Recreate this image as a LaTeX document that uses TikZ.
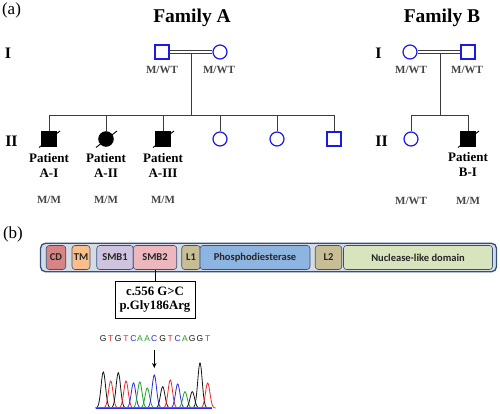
\documentclass[tikz,border=0pt]{standalone}
\usepackage{fontspec}
\setmainfont{Liberation Serif}
\newfontfamily\calfont{Carlito}
\newfontfamily\seqfont{Liberation Sans}
\usetikzlibrary{arrows.meta}
\definecolor{pblue}{RGB}{25,25,235}
\definecolor{lgrey}{RGB}{60,60,60}
\definecolor{tgrey}{RGB}{70,70,70}
\definecolor{barblue}{RGB}{50,80,130}
\definecolor{barfill}{RGB}{214,219,226}
\definecolor{cdc}{RGB}{214,132,134}
\definecolor{tmc}{RGB}{250,190,140}
\definecolor{smbone}{RGB}{206,196,224}
\definecolor{smbtwo}{RGB}{236,184,190}
\definecolor{lkc}{RGB}{200,190,150}
\definecolor{pdc}{RGB}{142,180,226}
\definecolor{nlc}{RGB}{216,228,190}
\definecolor{gA}{RGB}{30,160,40}
\definecolor{bC}{RGB}{40,40,230}
\definecolor{rT}{RGB}{235,40,40}
\definecolor{kG}{RGB}{20,20,20}
\newcommand\mypeak[3]{%
  \pgfmathsetmacro\pa{#2-8}\pgfmathsetmacro\pb{#2+8}%
  \draw[#1, line width=0.8pt] plot[domain=\pa:\pb, samples=33, smooth] (\x,{408-(408-#3)*exp(-((\x-#2)^2)/10)});}
\begin{document}
\begin{tikzpicture}[x=1pt,y=-1pt,
  msq/.style={draw=pblue, line width=1.2pt, rectangle, minimum size=14pt, inner sep=0pt},
  mci/.style={draw=pblue, line width=1.2pt, circle, minimum size=14pt, inner sep=0pt},
  asq/.style={draw=black, fill=black, line width=1pt, rectangle, minimum size=14.5pt, inner sep=0pt},
  aci/.style={draw=black, fill=black, line width=1pt, circle, minimum size=14.5pt, inner sep=0pt},
  conn/.style={draw=lgrey, line width=1pt},
  slash/.style={draw=black, line width=0.9pt},
  gen/.style={font=\fontsize{16}{18}\selectfont\bfseries, inner sep=0pt},
  fam/.style={font=\fontsize{19.5}{23}\selectfont\bfseries, inner sep=0pt},
  geno/.style={font=\fontsize{11}{12}\selectfont\bfseries, text=tgrey, inner sep=0pt},
  pat/.style={font=\fontsize{13}{15}\selectfont\bfseries, align=center, inner sep=0pt},
  panel/.style={font=\fontsize{17}{20}\selectfont, inner sep=0pt},
  dom/.style={draw=barblue, line width=0.6pt, rounded corners=3pt, minimum height=24pt, inner sep=0pt, font=\calfont\fontsize{10.5}{12}\selectfont\bfseries, text=black!85},
  mutbox/.style={draw=black, line width=1pt, minimum width=80pt, minimum height=37pt, align=center, inner sep=0pt, font=\fontsize{12.8}{14}\selectfont\bfseries},
  seq/.style={font=\seqfont\fontsize{8.5}{9}\selectfont, inner sep=0pt}
]
\useasboundingbox (0,0) rectangle (500,413);

% ---------- panel labels ----------
\node[panel] (pa) at (11.5,10.5) {(a)};
\node[panel] (pb) at (13,234) {(b)};

% ---------- Family A ----------
\node[fam] (famA) at (192,18) {Family A};
\node[gen] (IA) at (8,53) {I};
\node[gen] (IIA) at (11.5,141) {II};
\node[msq] (fA) at (162,52) {};
\node[mci] (mA) at (220,52) {};
\draw[conn] ([yshift=1.8pt]fA.east) -- ([yshift=1.8pt]mA.west);
\draw[conn] ([yshift=-1.8pt]fA.east) -- ([yshift=-1.8pt]mA.west);
\coordinate (dA) at (191,53.8);
\coordinate (sA) at (191,115);
\draw[conn] (dA) -- (sA);
\node[geno] (gfA) at (162,70) {M/WT};
\node[geno] (gmA) at (219,70) {M/WT};

\node[asq] (a1) at (49,139) {};
\node[aci] (a2) at (106,139) {};
\node[asq] (a3) at (163,139) {};
\node[mci] (a4) at (220,139) {};
\node[mci] (a5) at (277,139) {};
\node[msq] (a6) at (334,139) {};
\draw[conn] (a1 |- sA) -- (a6 |- sA);
\foreach \c in {a1,a2,a3,a4,a5,a6} \draw[conn] (\c |- sA) -- (\c.north);
\foreach \c in {a1,a2,a3} \draw[slash] ([shift={(-10,8.5)}]\c.center) -- ([shift={(11,-8)}]\c.center);
\node[pat] (pA1) at (49,165) {Patient\\A-I};
\node[pat] (pA2) at (106,165) {Patient\\A-II};
\node[pat] (pA3) at (163,165) {Patient\\A-III};
\node[geno] (gA1) at (49,200) {M/M};
\node[geno] (gA2) at (106,200) {M/M};
\node[geno] (gA3) at (163,200) {M/M};

% ---------- Family B ----------
\node[fam] (famB) at (442,18) {Family B};
\node[gen] (IB) at (378.5,53) {I};
\node[gen] (IIB) at (381.5,141) {II};
\node[mci] (mB) at (410,52) {};
\node[msq] (fB) at (468,52) {};
\draw[conn] ([yshift=1.8pt]mB.east) -- ([yshift=1.8pt]fB.west);
\draw[conn] ([yshift=-1.8pt]mB.east) -- ([yshift=-1.8pt]fB.west);
\coordinate (dB) at (440,53.8);
\coordinate (sB) at (440,115);
\draw[conn] (dB) -- (sB);
\node[geno] (gmB) at (411,70) {M/WT};
\node[geno] (gfB) at (467,70) {M/WT};
\node[mci] (b1) at (411,139) {};
\node[asq] (b2) at (468,139) {};
\draw[conn] (b1 |- sB) -- (b2 |- sB);
\foreach \c in {b1,b2} \draw[conn] (\c |- sB) -- (\c.north);
\draw[slash] ([shift={(-10,8.5)}]b2.center) -- ([shift={(11,-8)}]b2.center);
\node[pat] (pB1) at (468,165) {Patient\\B-I};
\node[geno] (gB1) at (411,201) {M/WT};
\node[geno] (gB2) at (468,201) {M/M};

% ---------- protein bar ----------
\node[draw=barblue, line width=1.3pt, fill=barfill, rounded corners=5pt, minimum width=456pt, minimum height=28.5pt, inner sep=0pt] (bar) at (268.5,257.5) {};
\node[dom, fill=cdc, minimum width=19.5pt] (cd) at (56,257.5) {CD};
\node[dom, fill=tmc, minimum width=18pt] (tm) at (81,257.5) {TM};
\node[dom, fill=smbone, minimum width=36.5pt] (smb1) at (115,257.5) {SMB1};
\node[dom, fill=smbtwo, minimum width=43.5pt] (smb2) at (155,257.5) {SMB2};
\node[dom, fill=lkc, minimum width=18.5pt] (l1) at (191,257.5) {L1};
\node[dom, fill=pdc, minimum width=110pt] (pde) at (255,257.5) {Phosphodiesterase};
\node[dom, fill=lkc, minimum width=26.5pt] (l2) at (328.5,257.5) {L2};
\node[dom, fill=nlc, minimum width=149pt] (nl) at (418,257.5) {Nuclease-like domain};

% ---------- mutation box ----------
\node[mutbox] (mut) at (155,299.5) {c.556 G>C\\p.Gly186Arg};
\draw[conn, draw=black] (smb2.south) -- (mut.north);

% ---------- sequence ----------
\foreach \l/\cl/\xx [count=\i] in {G/kG/103.3, T/rT/110.7, G/kG/118.3, T/rT/126, C/bC/133.5, A/gA/140, A/gA/147.3, C/bC/154.3, G/kG/162.7, T/rT/170.3, C/bC/177.7, A/gA/185, G/kG/192.3, G/kG/200, T/rT/207.7}
  \node[seq, text=\cl] (s\i) at (\xx,339) {\l};
\coordinate (arT) at (154.3,350);
\coordinate (arB) at (154.3,368);
\draw[line width=1pt, -{Stealth[length=5pt,width=4.5pt]}] (arT) -- (arB);

% ---------- chromatogram ----------
\mypeak{kG}{103.3}{372}
\mypeak{rT}{110.7}{381}
\mypeak{kG}{118.3}{372.7}
\mypeak{rT}{126}{381}
\mypeak{bC}{133.5}{383}
\mypeak{gA}{139.8}{382}
\mypeak{gA}{147.3}{388}
\mypeak{bC}{154.3}{375}
\mypeak{kG}{162.7}{386.7}
\mypeak{rT}{170.3}{380}
\mypeak{bC}{177.7}{384}
\mypeak{gA}{185}{391.7}
\mypeak{kG}{192.3}{391.7}
\mypeak{kG}{200}{363}
\mypeak{rT}{207.7}{383}
\coordinate (bl1) at (96,408.3);
\coordinate (bl2) at (212,408.3);
\draw[bC, line width=0.8pt] (bl1) -- (bl2);
\draw[gA, line width=0.5pt] ([yshift=0.6pt]bl1) -- ([yshift=0.6pt]bl2);
\end{tikzpicture}
\end{document}
